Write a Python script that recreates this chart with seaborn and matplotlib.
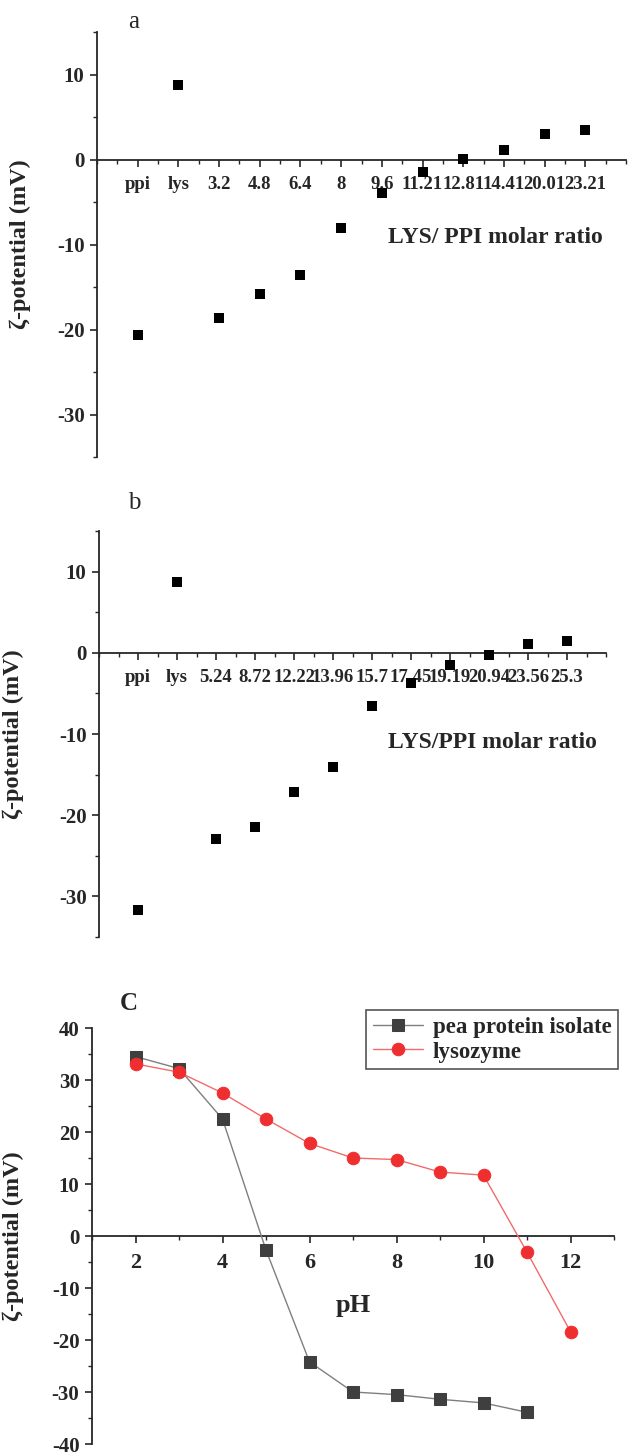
import numpy as np
import pandas as pd
import matplotlib
matplotlib.use("Agg")
import matplotlib.pyplot as plt
from matplotlib.ticker import MultipleLocator, FixedLocator
import seaborn as sns

# ---------------- data ----------------
a_labels = ["ppi", "lys", "3.2", "4.8", "6.4", "8", "9.6", "11.21", "12.81", "14.41", "20.01", "23.21"]
a_values = [-20.6, 8.8, -18.6, -15.8, -13.6, -8.0, -3.9, -1.5, 0.1, 1.1, 3.0, 3.5]

b_labels = ["ppi", "lys", "5.24", "8.72", "12.22", "13.96", "15.7", "17.45", "19.19", "20.94", "23.56", "25.3"]
b_values = [-31.7, 8.7, -22.9, -21.4, -17.1, -14.1, -6.5, -3.7, -1.5, -0.25, 1.07, 1.5]

ph = [2, 3, 4, 5, 6, 7, 8, 9, 10, 11, 12]
ppi_ph = [34.5, 32.2, 22.5, -2.7, -24.2, -30.0, -30.5, -31.4, -32.1, -33.9, None]
lys_ph = [33.1, 31.5, 27.5, 22.5, 17.8, 15.0, 14.7, 12.3, 11.7, -3.1, -18.4]

ylabel = "ζ-potential (mV)"

# ---------------- style ----------------
sns.set_theme(style="ticks")
plt.rcParams['font.family'] = ['Liberation Serif', 'DejaVu Serif']
plt.rcParams['font.weight'] = 'bold'
plt.rcParams['axes.linewidth'] = 1.3
plt.rcParams['axes.unicode_minus'] = False

W, H = 628, 1456
fig = plt.figure(figsize=(W / 100, H / 100), dpi=100)

def frac(l, t, r, b):
    return [l / W, 1 - b / H, (r - l) / W, (b - t) / H]

ax_a = fig.add_axes(frac(97, 32, 626, 457))
ax_b = fig.add_axes(frac(99, 531, 606, 937))
ax_c = fig.add_axes(frac(92, 1028, 614, 1444))

TICK_FS = 15
XCAT_FS = 13.5
YLAB_FS = 17.5

def style_cat(ax, labels, values, title, tpos, ylab_x):
    df = pd.DataFrame({"pos": np.arange(1, len(labels) + 1), "val": values})
    sns.scatterplot(data=df, x="pos", y="val", marker="s", s=48, color="black",
                    edgecolor="black", linewidth=0, ax=ax, zorder=5)
    ax.set_xlim(0, 13)
    ax.set_ylim(-35, 15)
    ax.spines['top'].set_visible(False)
    ax.spines['right'].set_visible(False)
    ax.spines['bottom'].set_position(('data', 0))
    ax.xaxis.set_major_locator(FixedLocator(df["pos"].tolist()))
    ax.set_xticklabels(labels)
    ax.xaxis.set_minor_locator(MultipleLocator(0.5))
    ax.yaxis.set_major_locator(MultipleLocator(10))
    ax.yaxis.set_minor_locator(MultipleLocator(5))
    ax.tick_params(axis='both', which='major', direction='out', length=5, width=1.2,
                   labelsize=TICK_FS, pad=4)
    ax.tick_params(axis='both', which='minor', direction='out', length=3, width=1.0)
    ax.tick_params(axis='x', which='major', pad=7, labelsize=XCAT_FS)
    ax.set_xlabel("")
    ax.set_ylabel(ylabel, fontsize=YLAB_FS, fontweight='bold')
    ax.yaxis.set_label_coords(ylab_x, 0.5)
    for t in ax.get_xticklabels() + ax.get_yticklabels():
        t.set_fontweight('bold')
    ax.text(tpos[0], tpos[1], title, fontsize=17, fontweight='bold', ha='left', va='center')

style_cat(ax_a, a_labels, a_values, "LYS/ PPI molar ratio", (7.15, -9.2), -0.125)
style_cat(ax_b, b_labels, b_values, "LYS/PPI molar ratio", (7.4, -11.1), -0.148)

fig.text(128 / W, 1 - 22 / H, "a", fontsize=18, fontweight='normal', ha='left', va='center')
fig.text(128 / W, 1 - 503 / H, "b", fontsize=18, fontweight='normal', ha='left', va='center')

# ---------------- panel C ----------------
dfc = pd.DataFrame({"pH": ph, "ppi": ppi_ph, "lys": lys_ph})
sns.lineplot(data=dfc, x="pH", y="ppi", ax=ax_c, color="#7f7f7f", linewidth=1.0,
             marker="s", markersize=8, markerfacecolor="#3f3f3f", markeredgecolor="#3f3f3f",
             label="pea protein isolate", zorder=4)
sns.lineplot(data=dfc, x="pH", y="lys", ax=ax_c, color="#f26b6b", linewidth=1.0,
             marker="o", markersize=9, markerfacecolor="#ef2f2f", markeredgecolor="#ef2f2f",
             label="lysozyme", zorder=5)
ax_c.set_xlim(1, 13)
ax_c.set_ylim(-40, 40)
ax_c.spines['top'].set_visible(False)
ax_c.spines['right'].set_visible(False)
ax_c.spines['bottom'].set_position(('data', 0))
ax_c.xaxis.set_major_locator(MultipleLocator(2))
ax_c.xaxis.set_minor_locator(MultipleLocator(1))
ax_c.yaxis.set_major_locator(MultipleLocator(10))
ax_c.yaxis.set_minor_locator(MultipleLocator(5))
ax_c.tick_params(axis='both', which='major', direction='out', length=5, width=1.2,
                 labelsize=TICK_FS, pad=4)
ax_c.tick_params(axis='both', which='minor', direction='out', length=3, width=1.0)
ax_c.tick_params(axis='x', which='major', pad=7, labelsize=16)
for t in ax_c.get_xticklabels() + ax_c.get_yticklabels():
    t.set_fontweight('bold')
ax_c.set_xlabel("")
ax_c.set_ylabel(ylabel, fontsize=YLAB_FS, fontweight='bold')
ax_c.yaxis.set_label_coords(-0.13, 0.5)
ax_c.text(7.0, -13.3, "pH", fontsize=19, fontweight='bold', ha='center', va='center')
leg = ax_c.legend(loc='upper right', bbox_to_anchor=(1.008, 1.043), frameon=True,
                  fancybox=False, framealpha=1, edgecolor="#555555",
                  prop={'weight': 'bold', 'size': 16.5, 'family': 'Liberation Serif'},
                  handlelength=2.2, handletextpad=0.4, borderpad=0.3, labelspacing=0.15,
                  borderaxespad=0)
leg.get_frame().set_linewidth(1.2)
fig.text(120 / W, 1 - 1003 / H, "C", fontsize=18, fontweight='bold', ha='left', va='center')

fig.savefig("out.png", dpi=100)
